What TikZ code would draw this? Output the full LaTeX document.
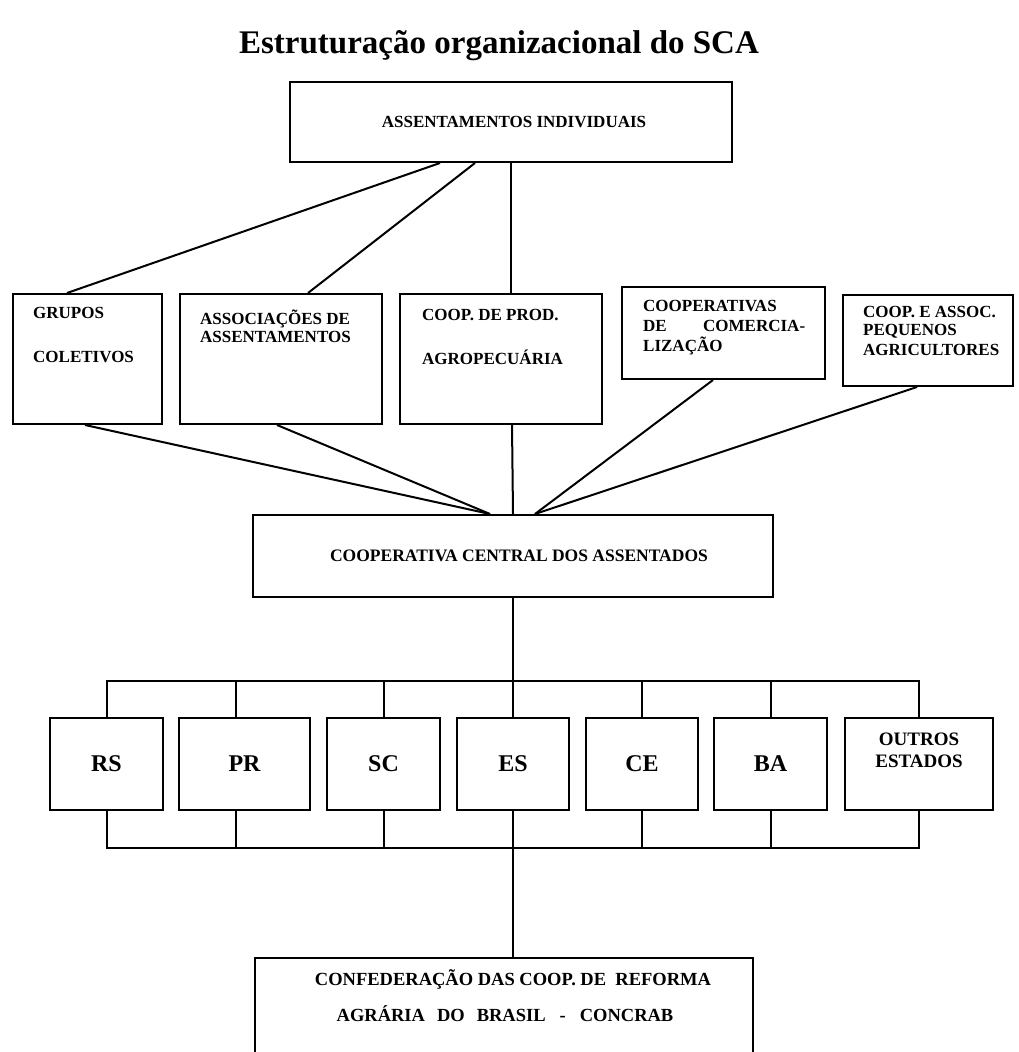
\documentclass[tikz,border=0pt]{standalone}
\usepackage{fontspec}
\setmainfont{Liberation Serif}
\begin{document}
\begin{tikzpicture}[x=1pt,y=-1pt,
  box/.style={draw, line width=2pt, inner sep=0pt, align=center,
    font=\bfseries\fontsize{17}{15}\selectfont},
  conn/.style={line width=2pt},
  lbl/.style={anchor=west, inner sep=0pt, align=left,
    font=\bfseries\fontsize{17}{18}\selectfont},
  uf/.style={box, minimum width=112pt, minimum height=92pt,
    font=\bfseries\fontsize{24}{24}\selectfont}]
\useasboundingbox (0,0) rectangle (1018,1052);
% title
\node[font=\bfseries\fontsize{33}{36}\selectfont, inner sep=0pt] (title) at (499,46) {Estruturação organizacional do SCA};
% top box
\node[box, minimum width=442pt, minimum height=80pt] (top) at (511,122) {\hspace*{6pt}ASSENTAMENTOS INDIVIDUAIS};
% second row
\node[box, minimum width=149pt, minimum height=130pt] (grupos) at (87.5,359) {};
\node[box, minimum width=202pt, minimum height=130pt] (assoc) at (281,359) {};
\node[box, minimum width=202pt, minimum height=130pt] (prod) at (501,359) {};
\node[box, minimum width=203pt, minimum height=92pt] (comer) at (723.5,333) {};
\node[box, minimum width=170pt, minimum height=91pt] (peq) at (928,340.5) {};
\node[lbl] (tg1) at (33,313) {GRUPOS};
\node[lbl] (tg2) at (33,357) {COLETIVOS};
\node[lbl] (ta) at (200,326) {ASSOCIAÇÕES DE\\ASSENTAMENTOS};
\node[lbl] (tp1) at (422,315) {COOP. DE PROD.};
\node[lbl] (tp2) at (422,357) {AGROPECUÁRIA};
\node[lbl] (tc1) at (643,306) {COOPERATIVAS};
\node[lbl, text width=162pt] (tc2) at (643,326) {DE\hfill COMERCIA-};
\node[lbl] (tc3) at (643,346) {LIZAÇÃO};
\node[lbl] (tq1) at (863,312) {COOP. E ASSOC.};
\node[lbl] (tq2) at (863,331) {PEQUENOS};
\node[lbl] (tq3) at (863,350) {AGRICULTORES};
% central
\node[box, minimum width=520pt, minimum height=82pt, font=\bfseries\fontsize{17.5}{18}\selectfont] (central) at (513,556) {\hspace*{12pt}COOPERATIVA CENTRAL DOS ASSENTADOS};
% states
\node[uf, minimum width=113pt] (rs) at (106.5,764) {RS};
\node[uf, minimum width=131pt] (pr) at (244.5,764) {PR};
\node[uf, minimum width=113pt] (sc) at (383.5,764) {SC};
\node[uf] (es) at (513,764) {ES};
\node[uf] (ce) at (642,764) {CE};
\node[uf, minimum width=113pt] (ba) at (770.5,764) {BA};
\node[uf, minimum width=148pt] (outros) at (919,764) {};
\node[inner sep=0pt, align=center, font=\bfseries\fontsize{19}{22}\selectfont] (to) at (919,750) {OUTROS\\ESTADOS};
% concrab
\node[box, minimum width=498pt, minimum height=102pt] (concrab) at (504,1009) {};
\node[inner sep=0pt, font=\bfseries\fontsize{18.5}{20}\selectfont] (tk1) at (513,979) {CONFEDERAÇÃO DAS COOP. DE\ \ REFORMA};
\node[inner sep=0pt, font=\bfseries\fontsize{18.5}{20}\selectfont] (tk2) at (505,1014) {AGRÁRIA\hspace{12pt}DO\hspace{12pt}BRASIL\hspace{14pt}-\hspace{14pt}CONCRAB};
% connectors top -> row 2
\draw[conn] ([xshift=-71pt]top.south) -- ([xshift=-20.5pt]grupos.north);
\draw[conn] ([xshift=-36pt]top.south) -- ([xshift=27pt]assoc.north);
\draw[conn] (top.south) -- ([xshift=10pt]prod.north);
% row 2 -> central
\draw[conn] ([xshift=-2.5pt]grupos.south) -- ([xshift=-23pt]central.north);
\draw[conn] ([xshift=-4pt]assoc.south) -- ([xshift=-23pt]central.north);
\draw[conn] ([xshift=11pt]prod.south) -- (central.north);
\draw[conn] ([xshift=-10.5pt]comer.south) -- ([xshift=22pt]central.north);
\draw[conn] ([xshift=-11pt]peq.south) -- ([xshift=22pt]central.north);
% central -> states
\draw[conn] (central.south) -- (es.north);
\draw[conn] (rs.north) -- ++(0,-36) -| (outros.north);
\draw[conn] ([xshift=-8.5pt]pr.north) -- ++(0,-36);
\draw[conn] (sc.north) -- ++(0,-36);
\draw[conn] (ce.north) -- ++(0,-36);
\draw[conn] (ba.north) -- ++(0,-36);
\draw[conn] (rs.south) -- ++(0,37) -| (outros.south);
\draw[conn] ([xshift=-8.5pt]pr.south) -- ++(0,37);
\draw[conn] (sc.south) -- ++(0,37);
\draw[conn] (ce.south) -- ++(0,37);
\draw[conn] (ba.south) -- ++(0,37);
\draw[conn] (es.south) -- ([xshift=9pt]concrab.north);
\end{tikzpicture}
\end{document}
